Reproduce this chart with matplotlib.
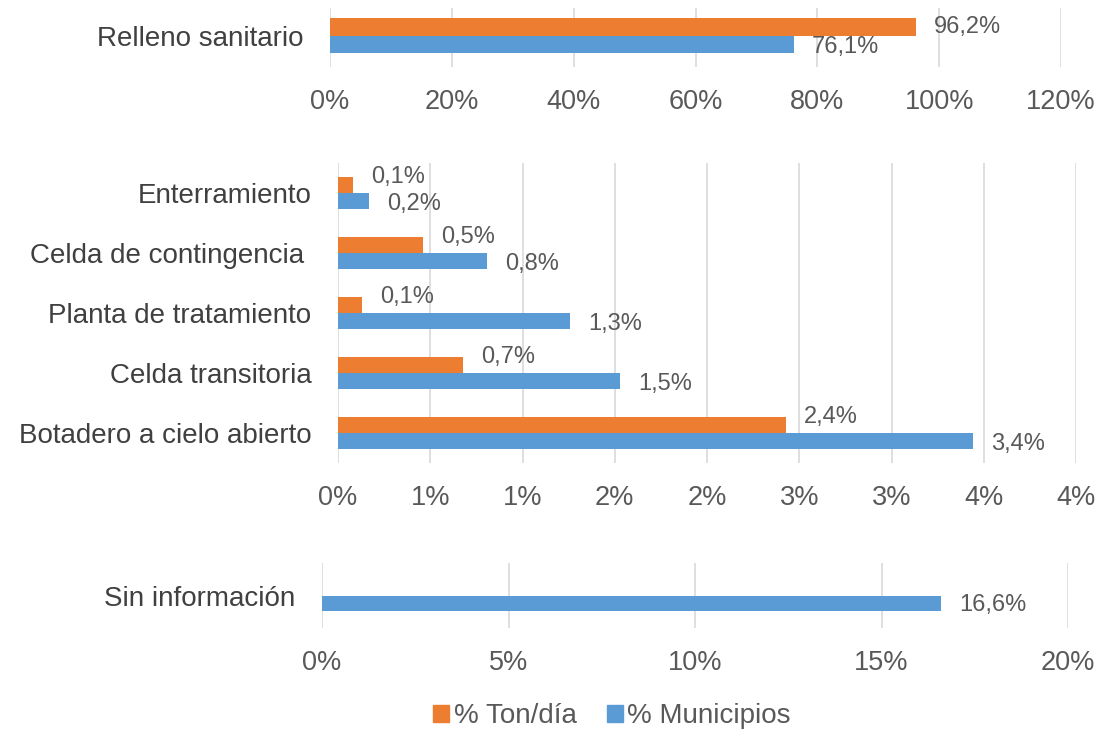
import matplotlib
matplotlib.use("Agg")
import matplotlib.pyplot as plt
from matplotlib.patches import Patch
from matplotlib.ticker import FixedLocator, FuncFormatter

# data (percent)
top_cat = ["Relleno sanitario"]
top_ton = [96.2]
top_mun = [76.1]

mid_cat = ["Enterramiento", "Celda de contingencia ", "Planta de tratamiento",
           "Celda transitoria", "Botadero a cielo abierto"]
mid_ton = [0.08, 0.46, 0.13, 0.68, 2.43]
mid_mun = [0.17, 0.81, 1.26, 1.53, 3.44]

bot_cat = ["Sin información"]
bot_mun = [16.6]

ORANGE = "#ED7D31"
BLUE = "#5B9BD5"
GRID = "#D9D9D9"
TXT = "#595959"

plt.rcParams["font.family"] = ["Liberation Sans", "DejaVu Sans"]
W, H = 1102, 734
fig = plt.figure(figsize=(W / 100, H / 100), dpi=100)


def px_axes(x0, x1, y0, y1):
    return fig.add_axes([x0 / W, 1 - y1 / H, (x1 - x0) / W, (y1 - y0) / H])


def pct(v):
    return f"{v:.1f}".replace(".", ",") + "%"


def style(ax, ticks, xmax, fmt):
    ax.set_xlim(0, xmax)
    ax.xaxis.set_major_locator(FixedLocator(ticks))
    ax.xaxis.set_major_formatter(FuncFormatter(fmt))
    ax.grid(axis="x", color=GRID, lw=1.2)
    ax.set_axisbelow(True)
    for s in ax.spines.values():
        s.set_visible(False)
    ax.tick_params(axis="x", length=0, labelsize=19.5, colors=TXT, pad=16)
    ax.tick_params(axis="y", length=0, labelsize=20, colors="#404040", pad=19)
    ax.invert_yaxis()


def label(ax, x, y, v, dy):
    ax.annotate(pct(v), (x, y), xytext=(18, dy), textcoords="offset pixels",
                ha="left", va="center", fontsize=17, color=TXT)


# top panel
ax1 = px_axes(330, 1061, 8, 67)
h1 = 0.3
ys = list(range(len(top_cat)))
ax1.barh([y - h1 / 2 for y in ys], top_ton, height=h1, color=ORANGE)
ax1.barh([y + h1 / 2 for y in ys], top_mun, height=h1, color=BLUE)
ax1.set_ylim(-0.47, 0.53)
ax1.set_yticks(ys, top_cat)
style(ax1, [0, 20, 40, 60, 80, 100, 120], 120, lambda v, p: f"{v:.0f}%")
for y, v in zip(ys, top_ton):
    label(ax1, v, y - h1 / 2, v, 0)
for y, v in zip(ys, top_mun):
    label(ax1, v, y + h1 / 2, v, -2)

# middle panel
ax2 = px_axes(338, 1076, 163, 463)
h2 = 0.26
ys = list(range(len(mid_cat)))
ax2.barh([y - h2 / 2 for y in ys], mid_ton, height=h2, color=ORANGE)
ax2.barh([y + h2 / 2 for y in ys], mid_mun, height=h2, color=BLUE)
ax2.set_ylim(-0.5, len(mid_cat) - 0.5)
ax2.set_yticks(ys, mid_cat)
style(ax2, [i * 0.5 for i in range(9)], 4, lambda v, p: f"{int(v + 0.5)}%")
for y, v in zip(ys, mid_ton):
    label(ax2, v, y - h2 / 2, v, 8)
for y, v in zip(ys, mid_mun):
    label(ax2, v, y + h2 / 2, v, -3)

# bottom panel
ax3 = px_axes(322, 1068, 563, 628)
h3 = 0.246
ys = list(range(len(bot_cat)))
ax3.barh([y + h3 / 2 for y in ys], bot_mun, height=h3, color=BLUE)
ax3.set_ylim(-0.5, 0.5)
ax3.set_yticks(ys, bot_cat)
style(ax3, [0, 5, 10, 15, 20], 20, lambda v, p: f"{v:.0f}%")
for y, v in zip(ys, bot_mun):
    label(ax3, v, y + h3 / 2, v, -2)

handles = [Patch(color=ORANGE, label="% Ton/día"),
           Patch(color=BLUE, label="% Municipios")]
fig.legend(handles=handles, loc="center", bbox_to_anchor=(612 / W, 1 - 716 / H),
           ncol=2, frameon=False, fontsize=20, labelcolor=TXT,
           handlelength=0.58, handleheight=0.58, handletextpad=0.15,
           columnspacing=1.1)

fig.savefig("out.png", dpi=100)
